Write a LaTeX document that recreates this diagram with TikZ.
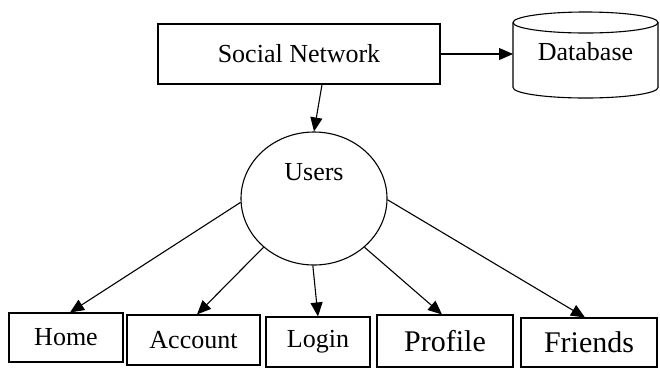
\documentclass[tikz,border=0pt]{standalone}
\usepackage{fontspec}
\setmainfont{Liberation Serif}
\usetikzlibrary{shapes.geometric,arrows.meta}

\begin{document}
\begin{tikzpicture}[x=1pt,y=-1pt,line width=1.1pt,
  box/.style={draw,inner sep=0pt,font=\fontsize{26}{30}\selectfont},
  bigbox/.style={box,font=\fontsize{30}{34}\selectfont},
  arr/.style={-{Triangle[length=14pt,width=12pt]}}]
\useasboundingbox (0,0) rectangle (660,368);
\node[box,minimum width=282pt,minimum height=60pt] (net) at (299,54) {Social Network};
\node[inner sep=0pt,font=\fontsize{26}{30}\selectfont] (db) at (585.5,52) {Database};
\draw (513,22.5) -- (513,87.5) arc[start angle=180,end angle=360,x radius=72.5pt,y radius=10.5pt] -- (658,22.5);
\draw (585.5,22.5) ellipse [x radius=72.5pt,y radius=10.5pt];
\node[draw,ellipse,inner sep=0pt,minimum width=146pt,minimum height=133pt,
  label={[anchor=base,yshift=-49pt,font=\fontsize{26}{30}\selectfont]north:Users}] (users) at (314,198.5) {};
\node[box,minimum width=114pt,minimum height=49pt] (home) at (66,337.5) {Home};
\node[box,minimum width=133pt,minimum height=50pt] (account) at (193.5,340) {Account};
\node[box,minimum width=104pt,minimum height=50pt] (login) at (318,342) {Login};
\node[bigbox,minimum width=136pt,minimum height=52pt] (profile) at (445,341) {Profile};
\node[bigbox,minimum width=136pt,minimum height=49pt] (friends) at (589,342.5) {Friends};
\draw[arr] (net.east) -- (net.east -| 513,0);
\draw[arr] ([xshift=23pt]net.south) -- (users.north);
\draw[arr] (users.183) -- ([xshift=4pt]home.north);
\draw[arr] (users.224) -- ([xshift=3.5pt]account.north);
\draw[arr] (users.269) -- (login.north);
\draw[arr] (users.316) -- ([xshift=-3pt]profile.north);
\draw[arr] (users.359) -- ([xshift=-4pt]friends.north);
\end{tikzpicture}
\end{document}
